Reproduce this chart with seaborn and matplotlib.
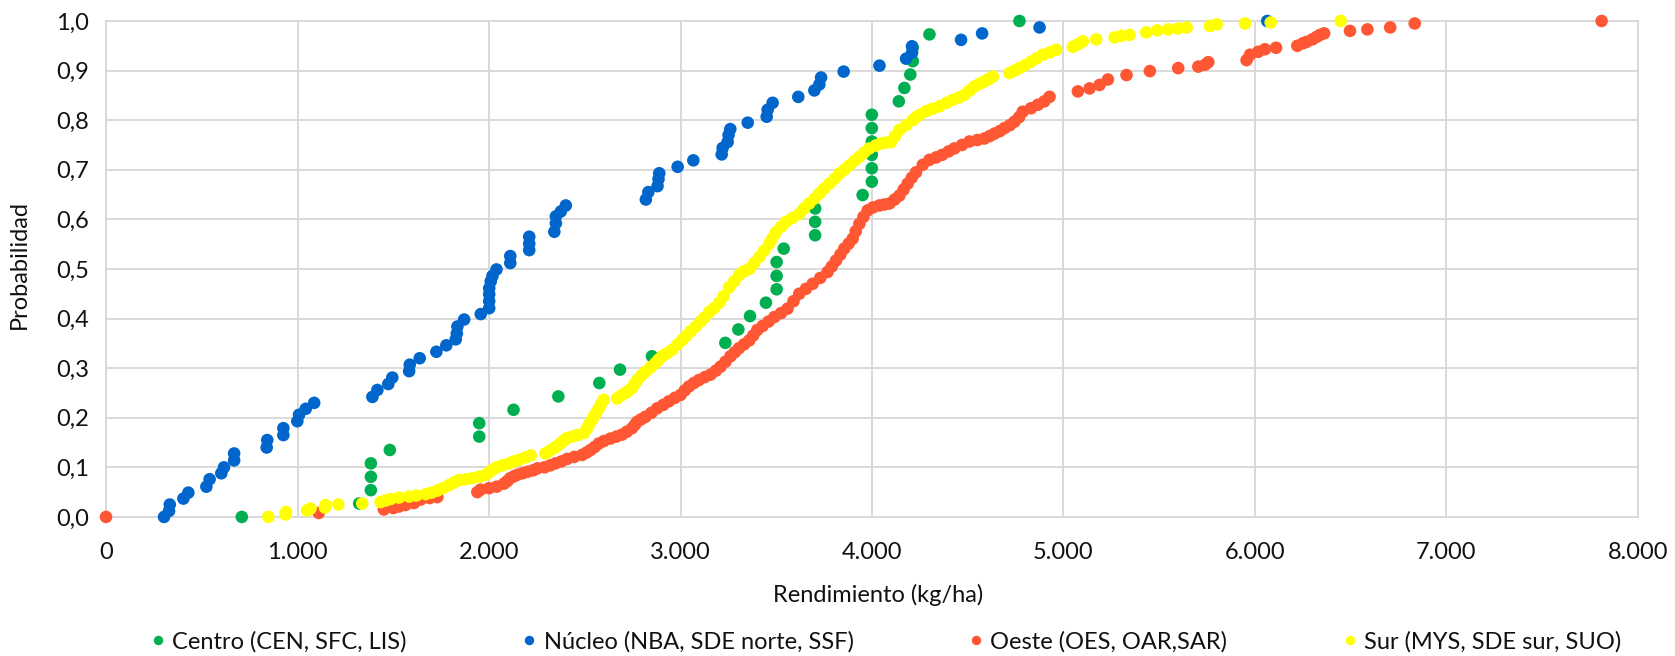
import matplotlib.pyplot as plt
import pandas as pd
import seaborn as sns

# Series names and colours (legend order = draw order)
series_names = ['Centro (CEN, SFC, LIS)', 'Núcleo (NBA, SDE norte, SSF)',
                'Oeste (OES, OAR,SAR)', 'Sur (MYS, SDE sur, SUO)']
series_colors = ['#00B050', '#0066CC', '#FF5733', '#FFFF00']

# Centro
centro_x = [709, 1322, 1383, 1383, 1383, 1482, 1949, 1949, 2128, 2362, 2576, 2684, 2851,
            3234, 3302, 3363, 3446, 3502, 3502, 3502, 3539, 3703, 3703, 3703, 3951, 3999,
            3999, 3999, 3999, 3999, 3999, 4140, 4169, 4200, 4213, 4213, 4300, 4770]
centro_y = [0.0, 0.027, 0.054, 0.081, 0.108, 0.135, 0.162, 0.189, 0.216, 0.243, 0.270,
            0.297, 0.324, 0.351, 0.378, 0.405, 0.432, 0.459, 0.486, 0.514, 0.541, 0.568,
            0.595, 0.622, 0.649, 0.676, 0.703, 0.730, 0.757, 0.784, 0.811, 0.838, 0.865,
            0.892, 0.919, 0.946, 0.973, 1.0]

# Nucleo
nucleo_x = [303, 329, 333, 404, 430, 524, 541, 602, 616, 669, 669, 839, 842, 926, 926,
            999, 1008, 1043, 1087, 1391, 1417, 1474, 1495, 1583, 1586, 1638, 1725, 1777,
            1826, 1832, 1835, 1870, 1957, 2001, 2001, 2001, 2001, 2009, 2018, 2039, 2111,
            2111, 2210, 2210, 2210, 2341, 2349, 2349, 2375, 2401, 2819, 2832, 2880, 2885,
            2889, 2985, 3067, 3215, 3220, 3246, 3251, 3260, 3351, 3450, 3455, 3481, 3615,
            3699, 3725, 3734, 3852, 4039, 4178, 4209, 4209, 4465, 4575, 4875, 6064]
nucleo_y = [0.0, 0.012, 0.025, 0.037, 0.049, 0.061, 0.076, 0.088, 0.100, 0.114, 0.128,
            0.140, 0.155, 0.165, 0.179, 0.193, 0.206, 0.218, 0.230, 0.242, 0.256, 0.268,
            0.281, 0.294, 0.307, 0.320, 0.333, 0.346, 0.358, 0.370, 0.384, 0.398, 0.409,
            0.421, 0.435, 0.449, 0.461, 0.475, 0.486, 0.499, 0.512, 0.526, 0.538, 0.551,
            0.565, 0.575, 0.592, 0.606, 0.616, 0.628, 0.640, 0.655, 0.667, 0.681, 0.693,
            0.706, 0.719, 0.731, 0.744, 0.756, 0.770, 0.782, 0.795, 0.807, 0.821, 0.835,
            0.847, 0.860, 0.872, 0.886, 0.898, 0.910, 0.924, 0.936, 0.949, 0.962, 0.975,
            0.987, 1.0]

# Oeste
oeste_x = [0, 1111, 1451, 1500, 1530, 1564, 1608, 1643, 1690, 1730, 1939, 1956, 2000,
           2040, 2078, 2095, 2110, 2130, 2148, 2175, 2200, 2230, 2253, 2290, 2320, 2347,
           2378, 2408, 2445, 2486, 2510, 2530, 2552, 2573, 2600, 2634, 2665, 2695, 2720,
           2747, 2762, 2774, 2795, 2817, 2848, 2878, 2910, 2939, 2970, 3000, 3022, 3044,
           3070, 3096, 3127, 3157, 3185, 3209, 3235, 3261, 3283, 3305, 3332, 3359, 3380,
           3401, 3429, 3460, 3490, 3525, 3559, 3590, 3620, 3655, 3690, 3730, 3768, 3790,
           3812, 3835, 3855, 3878, 3899, 3915, 3934, 3955, 3977, 4005, 4038, 4065, 4091,
           4118, 4143, 4165, 4186, 4208, 4230, 4265, 4300, 4335, 4366, 4400, 4430, 4470,
           4509, 4550, 4587, 4615, 4640, 4668, 4692, 4720, 4744, 4768, 4787, 4830, 4866,
           4900, 4927, 5075, 5136, 5188, 5232, 5329, 5451, 5599, 5704, 5740, 5756, 5956,
           5974, 6017, 6052, 6110, 6221, 6250, 6270, 6300, 6322, 6340, 6361, 6496, 6587,
           6706, 6834, 7810]
oeste_y = [0.0, 0.008, 0.015, 0.018, 0.021, 0.024, 0.028, 0.035, 0.038, 0.040, 0.050,
           0.055, 0.058, 0.061, 0.067, 0.072, 0.078, 0.082, 0.085, 0.088, 0.091, 0.094,
           0.098, 0.100, 0.104, 0.108, 0.112, 0.117, 0.121, 0.125, 0.130, 0.135, 0.141,
           0.148, 0.153, 0.158, 0.162, 0.166, 0.172, 0.179, 0.186, 0.192, 0.197, 0.202,
           0.210, 0.219, 0.226, 0.233, 0.240, 0.246, 0.255, 0.263, 0.270, 0.276, 0.282,
           0.287, 0.295, 0.303, 0.313, 0.324, 0.332, 0.340, 0.348, 0.356, 0.366, 0.377,
           0.385, 0.394, 0.403, 0.411, 0.420, 0.435, 0.450, 0.460, 0.470, 0.482, 0.494,
           0.505, 0.517, 0.529, 0.541, 0.551, 0.561, 0.576, 0.591, 0.605, 0.618, 0.624,
           0.628, 0.630, 0.632, 0.640, 0.648, 0.660, 0.672, 0.684, 0.695, 0.710, 0.720,
           0.725, 0.730, 0.737, 0.743, 0.750, 0.757, 0.760, 0.763, 0.768, 0.773, 0.778,
           0.784, 0.790, 0.797, 0.806, 0.817, 0.824, 0.831, 0.838, 0.847, 0.858, 0.864,
           0.871, 0.882, 0.891, 0.899, 0.905, 0.908, 0.912, 0.917, 0.921, 0.932, 0.938,
           0.943, 0.946, 0.950, 0.955, 0.958, 0.963, 0.968, 0.972, 0.975, 0.980, 0.983,
           0.987, 0.995, 1.0]

# Sur
sur_x = [848, 937, 940, 1050, 1068, 1143, 1146, 1213, 1338, 1434, 1460, 1486, 1530, 1582,
         1620, 1669, 1700, 1730, 1760, 1791, 1815, 1843, 1880, 1913, 1950, 1983, 2000, 2017,
         2040, 2070, 2105, 2130, 2157, 2190, 2218, 2294, 2315, 2338, 2355, 2373, 2390, 2408,
         2435, 2460, 2495, 2510, 2521, 2535, 2547, 2560, 2573, 2586, 2599, 2669, 2690, 2713,
         2730, 2747, 2760, 2774, 2795, 2817, 2845, 2869, 2885, 2904, 2930, 2956, 2983, 3009,
         3030, 3052, 3080, 3105, 3125, 3150, 3175, 3202, 3225, 3254, 3280, 3307, 3330, 3359,
         3385, 3411, 3437, 3463, 3480, 3498, 3525, 3551, 3585, 3620, 3645, 3672, 3700, 3725,
         3750, 3777, 3805, 3829, 3855, 3882, 3908, 3934, 3960, 3986, 4020, 4047, 4075, 4099,
         4120, 4143, 4178, 4213, 4230, 4250, 4282, 4315, 4352, 4390, 4422, 4455, 4483, 4510,
         4535, 4560, 4587, 4610, 4631, 4718, 4745, 4770, 4800, 4831, 4860, 4892, 4930, 4962,
         5049, 5075, 5101, 5171, 5267, 5303, 5345, 5432, 5490, 5547, 5599, 5643, 5765, 5800,
         5948, 6082, 6448]
sur_y = [0.0, 0.005, 0.010, 0.013, 0.017, 0.019, 0.024, 0.025, 0.027, 0.030, 0.033, 0.036,
         0.039, 0.041, 0.043, 0.046, 0.049, 0.053, 0.058, 0.064, 0.069, 0.074, 0.076, 0.078,
         0.081, 0.085, 0.090, 0.095, 0.100, 0.104, 0.108, 0.112, 0.115, 0.120, 0.124, 0.128,
         0.133, 0.138, 0.143, 0.148, 0.154, 0.159, 0.162, 0.165, 0.169, 0.177, 0.186, 0.194,
         0.202, 0.210, 0.219, 0.228, 0.236, 0.239, 0.245, 0.250, 0.255, 0.260, 0.268, 0.276,
         0.285, 0.293, 0.302, 0.310, 0.317, 0.324, 0.330, 0.337, 0.347, 0.357, 0.365, 0.374,
         0.384, 0.394, 0.402, 0.413, 0.421, 0.432, 0.445, 0.463, 0.475, 0.488, 0.495, 0.500,
         0.512, 0.524, 0.537, 0.551, 0.562, 0.574, 0.585, 0.595, 0.603, 0.611, 0.622, 0.632,
         0.642, 0.652, 0.662, 0.672, 0.682, 0.692, 0.700, 0.709, 0.718, 0.726, 0.735, 0.743,
         0.749, 0.753, 0.755, 0.756, 0.768, 0.780, 0.790, 0.800, 0.806, 0.811, 0.818, 0.823,
         0.828, 0.835, 0.841, 0.846, 0.851, 0.860, 0.868, 0.873, 0.878, 0.883, 0.888, 0.895,
         0.900, 0.905, 0.911, 0.918, 0.925, 0.932, 0.937, 0.942, 0.948, 0.953, 0.959, 0.963,
         0.967, 0.970, 0.972, 0.977, 0.981, 0.983, 0.985, 0.987, 0.990, 0.993, 0.995, 0.997,
         1.0]

x_ticks = [0, 1000, 2000, 3000, 4000, 5000, 6000, 7000, 8000]
x_tick_labels = ['0', '1.000', '2.000', '3.000', '4.000', '5.000', '6.000', '7.000', '8.000']
y_ticks = [0.0, 0.1, 0.2, 0.3, 0.4, 0.5, 0.6, 0.7, 0.8, 0.9, 1.0]
y_tick_labels = ['0,0', '0,1', '0,2', '0,3', '0,4', '0,5', '0,6', '0,7', '0,8', '0,9', '1,0']

# long-form table, series in legend order so they are drawn in that order
df = pd.concat([
    pd.DataFrame({'Rendimiento': x, 'Probabilidad': y, 'Serie': name})
    for name, x, y in zip(series_names,
                          [centro_x, nucleo_x, oeste_x, sur_x],
                          [centro_y, nucleo_y, oeste_y, sur_y])
], ignore_index=True)

sns.set_theme(style='white')
plt.rcParams['font.family'] = ['Lato', 'DejaVu Sans']
text_color = '#111111'
grid_color = '#D9D9D9'
fs = 17

fig = plt.figure(figsize=(16.75, 6.56), dpi=100)
ax = fig.add_axes([0.0633, 0.212, 0.9146, 0.756])

sns.scatterplot(data=df, x='Rendimiento', y='Probabilidad', hue='Serie',
                hue_order=series_names, palette=dict(zip(series_names, series_colors)),
                s=82, linewidth=0, clip_on=False, ax=ax, zorder=3)

ax.set_xlim(0, 8000)
ax.set_ylim(0, 1)
ax.set_xticks(x_ticks, x_tick_labels)
ax.set_yticks(y_ticks, y_tick_labels)
ax.grid(True, color=grid_color, linewidth=1.4)
ax.set_axisbelow(True)
for sp in ax.spines.values():
    sp.set_color(grid_color)
    sp.set_linewidth(1.4)
ax.tick_params(length=0, labelsize=fs, colors=text_color)
ax.tick_params(axis='x', pad=18)
ax.tick_params(axis='y', pad=12)

ax.set_xlabel('Rendimiento (kg/ha)', fontsize=fs, color=text_color)
ax.set_ylabel('Probabilidad', fontsize=fs, color=text_color)
ax.xaxis.set_label_coords(0.504, -0.135)
ax.yaxis.set_label_coords(-0.05, 0.51)

handles, labels = ax.get_legend_handles_labels()
ax.get_legend().remove()
fig.legend(handles, labels, loc='center', bbox_to_anchor=(0.527, 0.022), ncol=4,
           frameon=False, fontsize=fs, markerscale=0.75, handletextpad=0.0,
           handlelength=1.2, columnspacing=4.6, labelcolor=text_color)

fig.savefig('out.png', dpi=100)
